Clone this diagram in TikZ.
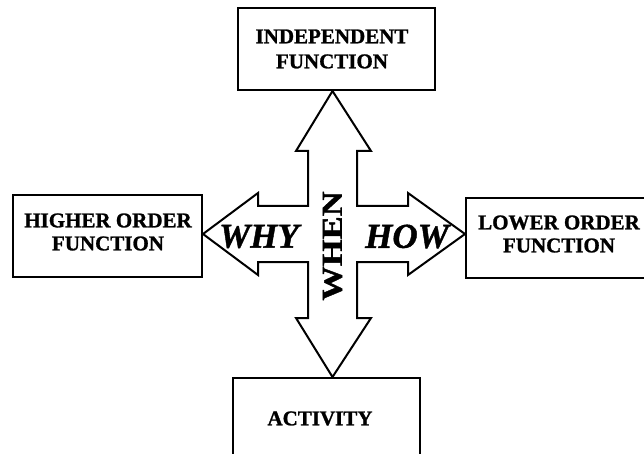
\documentclass[tikz,border=0pt]{standalone}
\usepackage{fontspec}
\setmainfont{Liberation Serif}[BoldFeatures={FakeBold=1.2}, BoldItalicFeatures={FakeBold=1.2}]
\usepackage{graphicx}
\usetikzlibrary{calc}

\tikzset{
  frame/.style={draw=black, line width=2pt, inner sep=0pt, fill=white},
  boxtext/.style={font=\fontsize{21}{23}\selectfont\bfseries, align=center, inner sep=0pt},
  crossbody/.style={draw=black, line width=2pt, fill=white, line join=miter},
  armtext/.style={font=\fontsize{35}{40}\selectfont\bfseries\itshape, inner sep=0pt},
  shafttext/.style={font=\fontsize{29}{32}\selectfont\bfseries, inner sep=0pt, rotate=90}
}

\begin{document}
\begin{tikzpicture}[x=1pt, y=-1pt]
  \clip (0,0) rectangle (644,454);
  \fill[white] (0,0) rectangle (644,454);

  % the four boxes (right and bottom ones run off the page edge)
  \node[frame, minimum width=197pt, minimum height=82pt] (topbox) at (336.5,49) {};
  \node[frame, minimum width=189pt, minimum height=82pt] (leftbox) at (107.5,236) {};
  \node[frame, minimum width=194pt, minimum height=80pt] (rightbox) at (563,238) {};
  \node[frame, minimum width=187pt, minimum height=102pt] (botbox) at (326.5,429) {};

  \node[boxtext, font=\fontsize{21}{25}\selectfont\bfseries] (toptext) at (332,49) {INDEPENDENT\\FUNCTION};
  \node[boxtext] (lefttext) at (108,232) {HIGHER ORDER\\FUNCTION};
  \node[boxtext] (righttext) at (559,234) {LOWER ORDER\\FUNCTION};
  \node[boxtext] (bottext) at (320,418.5) {ACTIVITY};

  % four-headed cross arrow
  \coordinate (c) at (332.5,234);
  \coordinate (tipN) at (c |- topbox.south);
  \coordinate (tipS) at (c |- botbox.north);
  \coordinate (tipW) at (leftbox.east |- c);
  \coordinate (tipE) at (rightbox.west |- c);

  \draw[crossbody]
    (tipN) -- ($(c)+(38.5,-83)$) -- ($(c)+(24.5,-83)$) -- ($(c)+(24.5,-28)$)
    -- ($(c)+(75.5,-28)$) -- ($(c)+(75.5,-41)$) -- (tipE)
    -- ($(c)+(75.5,41)$) -- ($(c)+(75.5,28)$) -- ($(c)+(24.5,28)$)
    -- ($(c)+(24.5,84)$) -- ($(c)+(38.5,84)$) -- (tipS)
    -- ($(c)+(-36.5,84)$) -- ($(c)+(-24.5,84)$) -- ($(c)+(-24.5,28)$)
    -- ($(c)+(-74.5,28)$) -- ($(c)+(-74.5,41)$) -- (tipW)
    -- ($(c)+(-74.5,-41)$) -- ($(c)+(-74.5,-28)$) -- ($(c)+(-24.5,-28)$)
    -- ($(c)+(-24.5,-83)$) -- ($(c)+(-36.5,-83)$) -- cycle;

  \node[armtext] (why) at (259,236.5) {WHY};
  \node[armtext] (how) at (407,236.5) {HOW};
  \node[shafttext] (when) at (332.5,246) {\scalebox{1.19}[1]{WHEN}};
\end{tikzpicture}
\end{document}
